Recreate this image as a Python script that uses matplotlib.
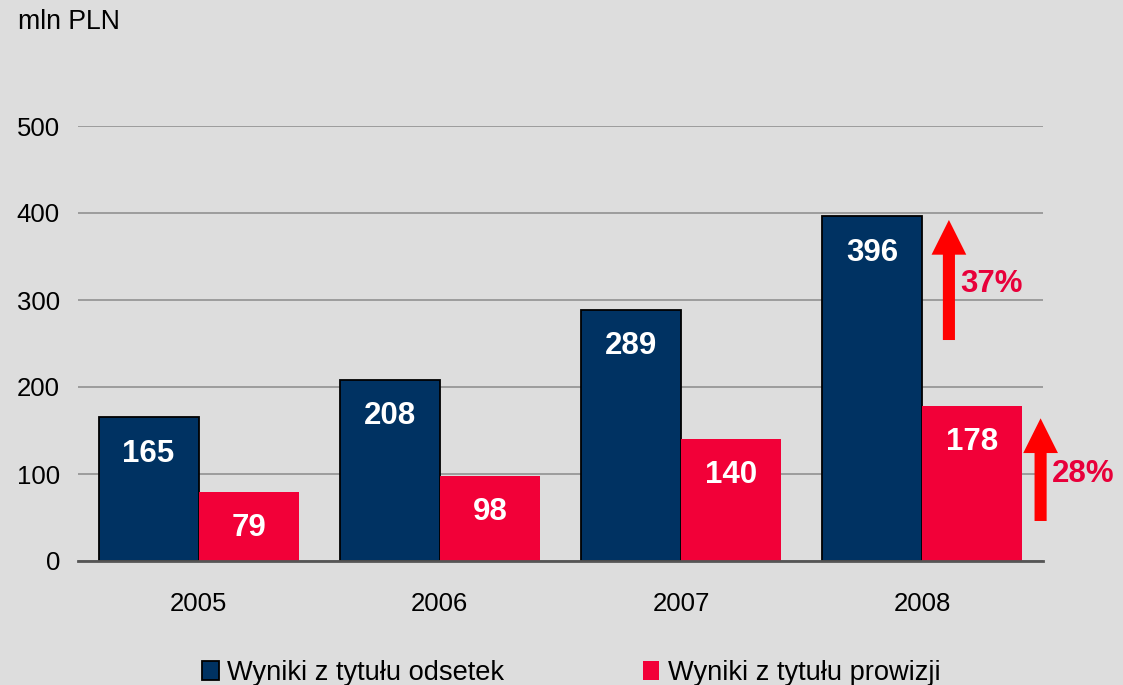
import matplotlib
matplotlib.use("Agg")
import matplotlib.pyplot as plt
import numpy as np
from matplotlib.patches import Patch

years = ["2005", "2006", "2007", "2008"]
odsetki = [165, 208, 289, 396]
prowizje = [79, 98, 140, 178]
series_names = ["Wyniki z tytułu odsetek", "Wyniki z tytułu prowizji"]
growth_labels = ["37%", "28%"]
growth_from = [254, 46]
growth_to = [392, 164]
yticks = [0, 100, 200, 300, 400, 500]

BG = "#DDDDDD"
BLUE = "#003262"
PINK = "#F20038"
ARROW = "#FF0000"
PCT = "#E8003A"

plt.rcParams['font.family'] = ['Liberation Sans', 'DejaVu Sans']

fig = plt.figure(figsize=(11.23, 6.85), dpi=100, facecolor=BG)
ax = fig.add_axes([78/1123, 124/685, 965/1123, 435/685], facecolor=BG)

x = np.arange(len(years))
w = 0.415
b1 = ax.bar(x - w/2, odsetki, w, color=BLUE, edgecolor="black", linewidth=1.3, zorder=3)
b2 = ax.bar(x + w/2, prowizje, w, color=PINK, edgecolor="none", zorder=3)

for bars, vals in ((b1, odsetki), (b2, prowizje)):
    for r, v in zip(bars, vals):
        ax.annotate(str(v), (r.get_x() + r.get_width()/2, v), xytext=(0, -26),
                    textcoords="offset points", ha="center", va="center",
                    color="white", fontsize=22.5, fontweight="bold", zorder=4)

ax.set_xlim(-0.5, 3.5)
ax.set_ylim(0, 500)
ax.set_yticks(yticks)
ax.set_xticks(x)
ax.set_xticklabels(years)
ax.tick_params(axis="both", length=0, labelsize=18.5, colors="black")
ax.tick_params(axis="y", pad=13)
ax.tick_params(axis="x", pad=22)
ax.yaxis.grid(True, color="#8A8A8A", linewidth=1.1, zorder=0)
ax.set_axisbelow(True)
for s in ("left", "right", "top"):
    ax.spines[s].set_visible(False)
ax.spines["bottom"].set_color("#555555")
ax.spines["bottom"].set_linewidth(2)
ax.spines["bottom"].set_zorder(5)

# growth arrows
arrow_x = [3.11, 3.49]
text_x = [3.155, 3.535]
text_y = [318, 100]
for ax_x, y0, y1, tx, ty, lab in zip(arrow_x, growth_from, growth_to, text_x, text_y, growth_labels):
    ax.annotate("", xy=(ax_x, y1), xytext=(ax_x, y0),
                arrowprops=dict(arrowstyle="simple,head_width=2.5,head_length=2.5,tail_width=0.87",
                                color=ARROW, lw=0, shrinkA=0, shrinkB=0),
                annotation_clip=False, zorder=6)
    ax.text(tx, ty, lab, color=PCT, fontsize=22.5, fontweight="bold",
            ha="left", va="center", clip_on=False)

fig.text(18/1123, 1 - 22/685, "mln PLN", fontsize=19.2, ha="left", va="center")

handles = [Patch(facecolor=BLUE, edgecolor="black", linewidth=1.3),
           Patch(facecolor=PINK, edgecolor="none")]
fig.legend(handles, series_names, loc="center", bbox_to_anchor=(571/1123, 1 - 673/685),
           ncol=2, frameon=False, fontsize=19.6, handlelength=0.62, handleheight=0.75,
           handletextpad=0.3, columnspacing=5.1, borderpad=0)

fig.savefig("out.png", dpi=100, facecolor=BG)
